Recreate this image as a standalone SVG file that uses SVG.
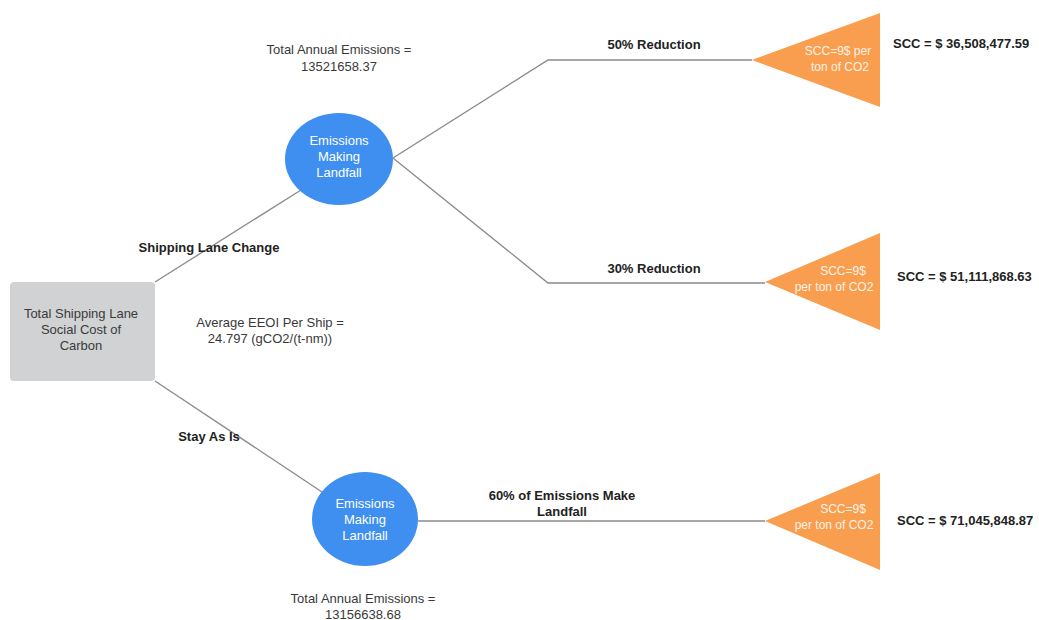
<svg xmlns="http://www.w3.org/2000/svg" width="1039" height="620" viewBox="0 0 1039 620">
<style>
.t{font-family:"Liberation Sans",Arial,sans-serif;font-size:13px;fill:#3a3a3a;text-anchor:middle}
.b{font-family:"Liberation Sans",Arial,sans-serif;font-size:13px;font-weight:bold;fill:#222}
.w{font-family:"Liberation Sans",Arial,sans-serif;font-size:13px;fill:#ffffff;text-anchor:middle}
.ws{font-family:"Liberation Sans",Arial,sans-serif;font-size:12px;fill:#fff4ea;text-anchor:middle}
.c{fill:#3f8ff0}
.tri{fill:#f99d4f}
.ln{stroke:#8a8a8a;stroke-width:1.3;fill:none}
</style>
<rect width="1039" height="620" fill="#ffffff"/>
<g id="connectors">
<polyline class="ln" points="155,282 301,190"/>
<polyline class="ln" points="155,381 322,492"/>
<polyline class="ln" points="393,158 548,60 752,60"/>
<polyline class="ln" points="393,158 548,283 765,283"/>
<polyline class="ln" points="418,521 765,521"/>
</g>
<g id="root">
<rect x="10" y="282" width="145" height="99" rx="4" fill="#d1d2d4"/>
<text class="t" x="81" y="318">Total Shipping Lane</text>
<text class="t" x="81" y="334">Social Cost of</text>
<text class="t" x="81" y="350">Carbon</text>
</g>
<g id="circle1">
<ellipse class="c" cx="339" cy="159" rx="54" ry="46"/>
<text class="w" x="339" y="145">Emissions</text>
<text class="w" x="339" y="161">Making</text>
<text class="w" x="339" y="177">Landfall</text>
</g>
<g id="circle2">
<ellipse class="c" cx="365" cy="519" rx="53" ry="47"/>
<text class="w" x="365" y="508">Emissions</text>
<text class="w" x="365" y="524">Making</text>
<text class="w" x="365" y="540">Landfall</text>
</g>
<g id="tri1">
<polygon class="tri" points="752,60 880,13 880,107"/>
<text class="ws" x="838" y="55">SCC=9$ per</text>
<text class="ws" x="840" y="71">ton of CO2</text>
</g>
<g id="tri2">
<polygon class="tri" points="765,282 880,233 880,330"/>
<text class="ws" x="843" y="275">SCC=9$</text>
<text class="ws" x="834" y="291">per ton of CO2</text>
</g>
<g id="tri3">
<polygon class="tri" points="765,521 880,473 880,570"/>
<text class="ws" x="843" y="513">SCC=9$</text>
<text class="ws" x="834" y="529">per ton of CO2</text>
</g>
<g id="labels">
<text class="t" x="339" y="54">Total Annual Emissions =</text>
<text class="t" x="339" y="71">13521658.37</text>
<text class="b" x="654" y="49" text-anchor="middle">50% Reduction</text>
<text class="b" x="654" y="273" text-anchor="middle">30% Reduction</text>
<text class="b" x="893" y="48">SCC = $ 36,508,477.59</text>
<text class="b" x="897" y="281">SCC = $ 51,111,868.63</text>
<text class="b" x="897" y="525">SCC = $ 71,045,848.87</text>
<text class="b" x="209" y="252" text-anchor="middle">Shipping Lane Change</text>
<text class="t" x="270" y="327">Average EEOI Per Ship =</text>
<text class="t" x="270" y="343">24.797 (gCO2/(t-nm))</text>
<text class="b" x="209" y="441" text-anchor="middle">Stay As Is</text>
<text class="b" x="562" y="500" text-anchor="middle">60% of Emissions Make</text>
<text class="b" x="562" y="516" text-anchor="middle">Landfall</text>
<text class="t" x="363" y="603">Total Annual Emissions =</text>
<text class="t" x="363" y="619">13156638.68</text>
</g>
</svg>
